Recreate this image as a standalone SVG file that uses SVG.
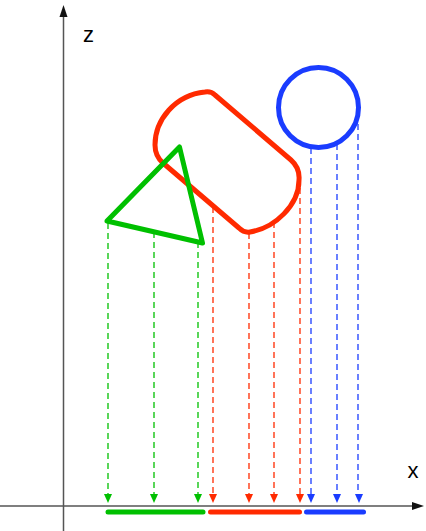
<svg xmlns="http://www.w3.org/2000/svg" width="426" height="531" viewBox="0 0 426 531">
<style>
.axis{stroke:#555;stroke-width:1.5;fill:none}
.lbl{font-family:"Liberation Sans",Arial,sans-serif;font-size:22px;fill:#000;text-anchor:middle}
.shape{fill:none;stroke-width:5;stroke-linejoin:round}
.dash{fill:none;stroke-width:1.3;stroke-dasharray:6,4}
.bar{fill:none;stroke-width:5;stroke-linecap:round}
.g{stroke:#00c000}.r{stroke:#ff2a00}.b{stroke:#1a3cff}
.gf{fill:#00c000}.rf{fill:#ff2a00}.bf{fill:#1a3cff}
</style>
<rect width="426" height="531" fill="#fff"/>
<g id="axes">
<line class="axis" x1="63.5" y1="531" x2="63.5" y2="14"/>
<polygon points="63.5,5 59.5,17 67.5,17" fill="#111"/>
<line class="axis" x1="0" y1="506" x2="414" y2="506"/>
<polygon points="424,506 412,502 412,510" fill="#111"/>
<text class="lbl" x="88.5" y="42">z</text>
<text class="lbl" x="413" y="478">x</text>
</g>
<g id="cylinder">
<path class="shape r" d="M 215,95 L 291,160 Q 300,168 299,180 C 299,205 275,228 250,232 Q 244,233 239,228 L 163,163 Q 155,156 155,145 C 155,120 175,95 205,92 Q 211,91 215,95 Z"/>
</g>
<g id="circle">
<circle class="shape b" cx="318.5" cy="107.5" r="40"/>
</g>
<g id="triangle">
<polygon class="shape g" points="107,221 179.5,147 202.5,243"/>
</g>
<g id="connectors">
<line class="dash g" x1="108" y1="223" x2="108" y2="495"/>
<line class="dash g" x1="154" y1="232" x2="154" y2="495"/>
<line class="dash g" x1="198" y1="242" x2="198" y2="495"/>
<line class="dash r" x1="213" y1="207" x2="213" y2="495"/>
<line class="dash r" x1="249" y1="233" x2="249" y2="495"/>
<line class="dash r" x1="274" y1="222" x2="274" y2="495"/>
<line class="dash r" x1="300" y1="188" x2="300" y2="495"/>
<line class="dash b" x1="311" y1="148" x2="311" y2="495"/>
<line class="dash b" x1="337" y1="144" x2="337" y2="495"/>
<line class="dash b" x1="358" y1="124" x2="358" y2="495"/>
<polygon class="gf" points="108,503 104,494 112,494"/>
<polygon class="gf" points="154,503 150,494 158,494"/>
<polygon class="gf" points="198,503 194,494 202,494"/>
<polygon class="rf" points="213,503 209,494 217,494"/>
<polygon class="rf" points="249,503 245,494 253,494"/>
<polygon class="rf" points="274,503 270,494 278,494"/>
<polygon class="rf" points="300,503 296,494 304,494"/>
<polygon class="bf" points="311,503 307,494 315,494"/>
<polygon class="bf" points="337,503 333,494 341,494"/>
<polygon class="bf" points="359,503 355,494 363,494"/>
</g>
<g id="projections">
<line class="bar g" x1="108" y1="512" x2="203" y2="512"/>
<line class="bar r" x1="210.5" y1="512" x2="299.5" y2="512"/>
<line class="bar b" x1="306.5" y1="512" x2="363.5" y2="512"/>
</g>
</svg>
